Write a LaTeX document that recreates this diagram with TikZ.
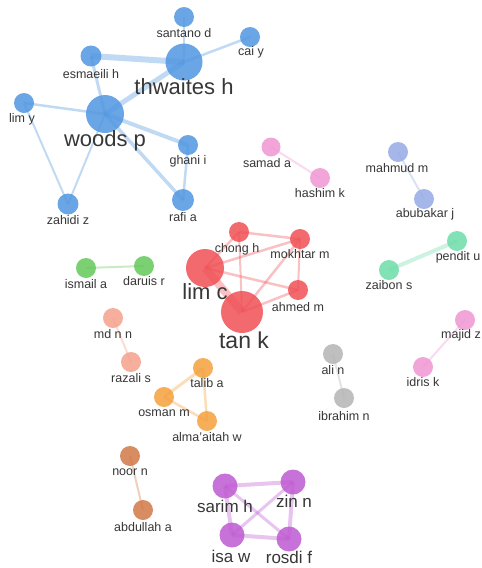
\documentclass[tikz,border=0pt]{standalone}
\usepackage{fontspec}
\setmainfont{Liberation Sans}
\definecolor{cblue}{RGB}{80,150,225}
\definecolor{cred}{RGB}{240,80,85}
\definecolor{cpink}{RGB}{240,150,210}
\definecolor{cperi}{RGB}{150,170,230}
\definecolor{cteal}{RGB}{110,220,170}
\definecolor{cgreen}{RGB}{100,200,90}
\definecolor{csalmon}{RGB}{245,160,140}
\definecolor{corange}{RGB}{245,160,60}
\definecolor{cgray}{RGB}{180,180,180}
\definecolor{cbrown}{RGB}{210,120,70}
\definecolor{cpurple}{RGB}{190,90,210}
\definecolor{txt}{RGB}{55,55,55}
\tikzset{
  nd/.style={circle,inner sep=0pt,minimum size=#1,fill opacity=0.85},
  ed/.style={line width=#1,draw opacity=0.35},
  ed/.default=2pt,
  lb/.style={inner sep=0pt,text=txt,font=\fontsize{12.5}{12.5}\selectfont},
  lbbig/.style={inner sep=0pt,text=txt,font=\fontsize{22}{22}\selectfont},
  lbmid/.style={inner sep=0pt,text=txt,font=\fontsize{17}{17}\selectfont}
}
\begin{document}
\begin{tikzpicture}[x=1pt,y=-1pt]
\useasboundingbox (0,0) rectangle (482,568);
\fill[white] (0,0) rectangle (482,568);
% ---------- positions ----------
% blue
\coordinate (santano) at (184,17);
\coordinate (cai) at (250,37);
\coordinate (thwaites) at (184,62);
\coordinate (esmaeili) at (91,56);
\coordinate (limy) at (24,103);
\coordinate (woods) at (105,114);
\coordinate (ghani) at (188,145);
\coordinate (rafi) at (183,200);
\coordinate (zahidi) at (68,204);
% pink / peri / teal
\coordinate (samad) at (271,147);
\coordinate (hashim) at (320,178);
\coordinate (mahmud) at (398,152);
\coordinate (abubakar) at (424,199);
\coordinate (pendit) at (457,241);
\coordinate (zaibon) at (389,270);
% red
\coordinate (chong) at (239,232);
\coordinate (mokhtar) at (300,239);
\coordinate (limc) at (205,268);
\coordinate (tank) at (242,312);
\coordinate (ahmed) at (298,290);
% green, salmon, orange
\coordinate (ismail) at (86,268);
\coordinate (daruis) at (144,266);
\coordinate (mdnn) at (113,318);
\coordinate (razali) at (131,362);
\coordinate (talib) at (203,368);
\coordinate (osman) at (164,397);
\coordinate (alma) at (207,421);
% gray, pink2, brown, purple
\coordinate (alin) at (333,354);
\coordinate (ibrahim) at (344,398);
\coordinate (majid) at (465,320);
\coordinate (idris) at (423,367);
\coordinate (noor) at (130,456);
\coordinate (abdullah) at (143,510);
\coordinate (sarim) at (225,486);
\coordinate (zin) at (293,482);
\coordinate (isa) at (232,535);
\coordinate (rosdi) at (289,539);
% ---------- edges ----------
\draw[ed=2.5pt,cblue] (santano) -- (thwaites);
\draw[ed=2.5pt,cblue] (cai) -- (thwaites);
\draw[ed=6pt,cblue] (esmaeili) -- (thwaites);
\draw[ed=3pt,cblue] (esmaeili) -- (woods);
\draw[ed=5pt,cblue] (thwaites) -- (woods);
\draw[ed=2.5pt,cblue] (limy) -- (woods);
\draw[ed=2pt,cblue] (limy) -- (zahidi);
\draw[ed=2pt,cblue] (woods) -- (zahidi);
\draw[ed=4pt,cblue] (woods) -- (ghani);
\draw[ed=3.5pt,cblue] (woods) -- (rafi);
\draw[ed=2.5pt,cblue] (ghani) -- (rafi);
\draw[ed=2pt,cpink] (samad) -- (hashim);
\draw[ed=2pt,cperi] (mahmud) -- (abubakar);
\draw[ed=4pt,cteal] (pendit) -- (zaibon);
\draw[ed=2.5pt,cred] (chong) -- (mokhtar);
\draw[ed=2.5pt,cred] (chong) -- (limc);
\draw[ed=2pt,cred] (chong) -- (tank);
\draw[ed=2.5pt,cred] (limc) -- (mokhtar);
\draw[ed=2.5pt,cred] (limc) -- (ahmed);
\draw[ed=8pt,cred] (limc) -- (tank);
\draw[ed=2.5pt,cred] (tank) -- (mokhtar);
\draw[ed=2.5pt,cred] (tank) -- (ahmed);
\draw[ed=2pt,cred] (mokhtar) -- (ahmed);
\draw[ed=2pt,cgreen] (ismail) -- (daruis);
\draw[ed=2pt,csalmon] (mdnn) -- (razali);
\draw[ed=3pt,corange] (talib) -- (osman);
\draw[ed=2.5pt,corange] (talib) -- (alma);
\draw[ed=2.5pt,corange] (osman) -- (alma);
\draw[ed=2pt,cgray] (alin) -- (ibrahim);
\draw[ed=2pt,cpink] (majid) -- (idris);
\draw[ed=2pt,cbrown] (noor) -- (abdullah);
\draw[ed=4pt,cpurple] (sarim) -- (zin);
\draw[ed=4pt,cpurple] (sarim) -- (isa);
\draw[ed=3pt,cpurple] (sarim) -- (rosdi);
\draw[ed=3pt,cpurple] (zin) -- (isa);
\draw[ed=4pt,cpurple] (zin) -- (rosdi);
\draw[ed=4pt,cpurple] (isa) -- (rosdi);
% ---------- circles ----------
\node[nd=20pt,fill=cblue] (nsantano) at (santano) {};
\node[nd=20pt,fill=cblue] (ncai) at (cai) {};
\node[nd=37pt,fill=cblue] (nthwaites) at (thwaites) {};
\node[nd=21pt,fill=cblue] (nesmaeili) at (esmaeili) {};
\node[nd=20pt,fill=cblue] (nlimy) at (limy) {};
\node[nd=38pt,fill=cblue] (nwoods) at (woods) {};
\node[nd=20pt,fill=cblue] (nghani) at (ghani) {};
\node[nd=22pt,fill=cblue] (nrafi) at (rafi) {};
\node[nd=21pt,fill=cblue] (nzahidi) at (zahidi) {};
\node[nd=19pt,fill=cpink] (nsamad) at (samad) {};
\node[nd=20pt,fill=cpink] (nhashim) at (hashim) {};
\node[nd=20pt,fill=cperi] (nmahmud) at (mahmud) {};
\node[nd=20pt,fill=cperi] (nabubakar) at (abubakar) {};
\node[nd=20pt,fill=cteal] (npendit) at (pendit) {};
\node[nd=20pt,fill=cteal] (nzaibon) at (zaibon) {};
\node[nd=20pt,fill=cred] (nchong) at (chong) {};
\node[nd=20pt,fill=cred] (nmokhtar) at (mokhtar) {};
\node[nd=38pt,fill=cred] (nlimc) at (limc) {};
\node[nd=42pt,fill=cred] (ntank) at (tank) {};
\node[nd=20pt,fill=cred] (nahmed) at (ahmed) {};
\node[nd=20pt,fill=cgreen] (nismail) at (ismail) {};
\node[nd=20pt,fill=cgreen] (ndaruis) at (daruis) {};
\node[nd=20pt,fill=csalmon] (nmdnn) at (mdnn) {};
\node[nd=20pt,fill=csalmon] (nrazali) at (razali) {};
\node[nd=20pt,fill=corange] (ntalib) at (talib) {};
\node[nd=20pt,fill=corange] (nosman) at (osman) {};
\node[nd=20pt,fill=corange] (nalma) at (alma) {};
\node[nd=20pt,fill=cgray] (nalin) at (alin) {};
\node[nd=20pt,fill=cgray] (nibrahim) at (ibrahim) {};
\node[nd=20pt,fill=cpink] (nmajid) at (majid) {};
\node[nd=20pt,fill=cpink] (nidris) at (idris) {};
\node[nd=20pt,fill=cbrown] (nnoor) at (noor) {};
\node[nd=20pt,fill=cbrown] (nabdullah) at (abdullah) {};
\node[nd=25pt,fill=cpurple] (nsarim) at (sarim) {};
\node[nd=25pt,fill=cpurple] (nzin) at (zin) {};
\node[nd=25pt,fill=cpurple] (nisa) at (isa) {};
\node[nd=25pt,fill=cpurple] (nrosdi) at (rosdi) {};
% ---------- labels ----------
\node[lb] (lsantano) at (184,33) {santano d};
\node[lb] (lcai) at (251,52) {cai y};
\node[lbbig] (lthwaites) at (184,87) {thwaites h};
\node[lb] (lesmaeili) at (91,74) {esmaeili h};
\node[lb] (llimy) at (22,119) {lim y};
\node[lbbig] (lwoods) at (105,141) {woods p};
\node[lb] (lghani) at (188,161) {ghani i};
\node[lb] (lrafi) at (183,217) {rafi a};
\node[lb] (lzahidi) at (68,220) {zahidi z};
\node[lb] (lsamad) at (267,163) {samad a};
\node[lb] (lhashim) at (320,193) {hashim k};
\node[lb] (lmahmud) at (397,168) {mahmud m};
\node[lb] (labubakar) at (425,214) {abubakar j};
\node[lb] (lpendit) at (458,257) {pendit u};
\node[lb] (lzaibon) at (389,285) {zaibon s};
\node[lb] (lchong) at (237,249) {chong h};
\node[lb] (lmokhtar) at (300,254) {mokhtar m};
\node[lbbig] (llimc) at (205,292) {lim c};
\node[lbbig,font=\fontsize{23}{23}\selectfont] (ltank) at (244,340) {tan k};
\node[lb] (lahmed) at (298,307) {ahmed m};
\node[lb] (lismail) at (86,284) {ismail a};
\node[lb] (ldaruis) at (144,281) {daruis r};
\node[lb] (lmdnn) at (113,334) {md n n};
\node[lb] (lrazali) at (131,378) {razali s};
\node[lb] (ltalib) at (207,383) {talib a};
\node[lb] (losman) at (164,413) {osman m};
\node[lb] (lalma) at (207,437) {alma'aitah w};
\node[lb] (lalin) at (333,370) {ali n};
\node[lb] (librahim) at (344,416) {ibrahim n};
\node[lb,anchor=east] (lmajid) at (481,335) {majid z};
\node[lb] (lidris) at (423,382) {idris k};
\node[lb] (lnoor) at (130,472) {noor n};
\node[lb] (labdullah) at (143,527) {abdullah a};
\node[lbmid] (lsarim) at (225,506) {sarim h};
\node[lbmid] (lzin) at (294,501) {zin n};
\node[lbmid] (lisa) at (231,556) {isa w};
\node[lbmid] (lrosdi) at (289,557) {rosdi f};
\end{tikzpicture}
\end{document}
